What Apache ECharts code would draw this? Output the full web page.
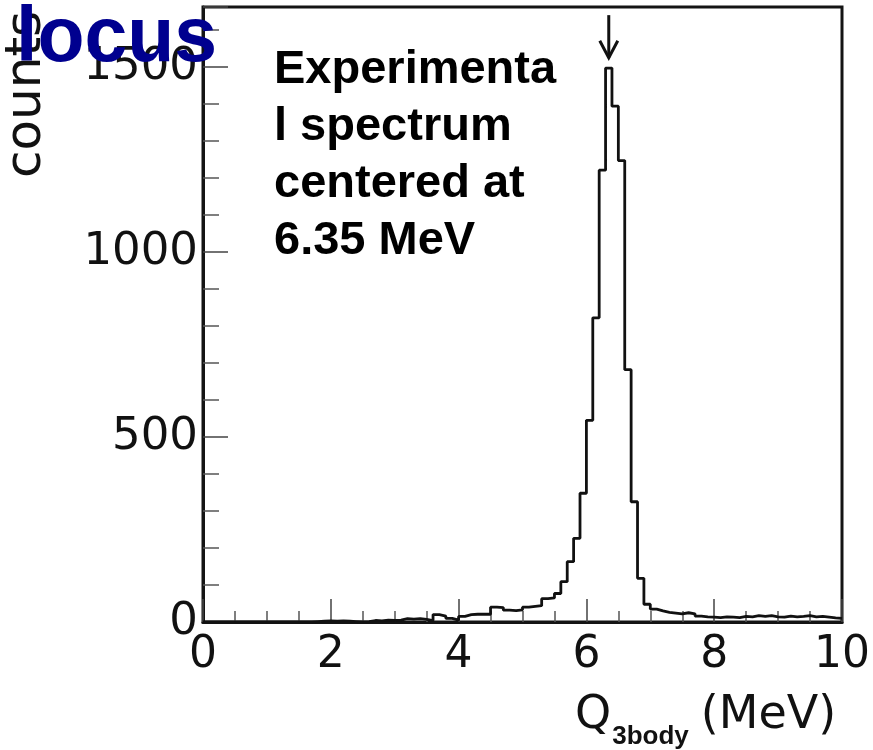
<!DOCTYPE html>
<html>
<head>
<meta charset="utf-8">
<script src="https://cdn.jsdelivr.net/npm/echarts@6/dist/echarts.min.js"></script>
<style>
  html, body { margin: 0; padding: 0; background: #ffffff; }
  #chart { width: 873px; height: 750px; }
</style>
</head>
<body>
<div id="chart"></div>
<script>
// Q-value histogram: 100 bins of 0.1 MeV from 0 to 10 MeV
const binWidth = 0.1;
const binCounts = [
  0, 0, 0, 0, 0, 0, 0, 0, 0, 0,          // 0.0 - 0.9
  0, 0, 0, 0, 0, 0, 0, 1, 2, 3,          // 1.0 - 1.9
  2, 3, 2, 1, 0, 1, 4, 3, 5, 4,          // 2.0 - 2.9
  5, 9, 8, 9, 7, 4, 20, 16, 10, 5,       // 3.0 - 3.9
  15, 20, 21, 21, 21, 40, 39, 32, 31, 33, // 4.0 - 4.9
  40, 42, 44, 63, 65, 77, 109, 163, 226, 348, // 5.0 - 5.9
  545, 822, 1221, 1497, 1394, 1247, 682, 325, 118, 48, // 6.0 - 6.9
  35, 30, 26, 24, 22, 25, 22, 16, 14, 13, // 7.0 - 7.9
  12, 14, 13, 12, 15, 14, 17, 15, 17, 14, // 8.0 - 8.9
  13, 16, 14, 15, 17, 14, 15, 13, 11, 10  // 9.0 - 9.9
];
const xTicks = [0, 2, 4, 6, 8, 10];
const yTicks = [0, 500, 1000, 1500];
const peakCenter = 6.35;               // MeV, marked with the arrow
const arrowSpan = [1640, 1525];        // counts, top and tip of the arrow

// step points at the left edge of each bin, closed at the right edge
const stepData = binCounts.map((c, i) => [+(i * binWidth).toFixed(2), c]);
stepData.push([xTicks[xTicks.length - 1], binCounts[binCounts.length - 1]]);

const axisFont = '"DejaVu Sans", Verdana, sans-serif';
const boldFont = '"Liberation Sans", Arial, sans-serif';
const chart = echarts.init(document.getElementById('chart'), null, { renderer: 'canvas' });

chart.setOption({
  backgroundColor: '#ffffff',
  animation: false,
  grid: {
    left: 203, right: 31, top: 7, bottom: 128,
    show: true, borderColor: '#141414', borderWidth: 3, backgroundColor: 'transparent'
  },
  xAxis: {
    type: 'value',
    min: xTicks[0], max: xTicks[xTicks.length - 1], interval: 2,
    axisLine: { show: true, lineStyle: { color: '#141414', width: 3 } },
    axisTick: { show: true, inside: true, length: 23, lineStyle: { color: '#444', width: 1.5 } },
    minorTick: { show: true, splitNumber: 4, length: 11, lineStyle: { color: '#555', width: 1.5 } },
    splitLine: { show: false },
    axisLabel: {
      margin: 12, color: '#111', fontFamily: axisFont, fontSize: 44,
      formatter: v => String(v)
    }
  },
  yAxis: {
    type: 'value',
    min: yTicks[0], max: 1662, interval: 500,
    axisLine: { show: true, lineStyle: { color: '#141414', width: 3 } },
    axisTick: { show: true, inside: true, length: 25, lineStyle: { color: '#444', width: 1.5 } },
    minorTick: { show: true, splitNumber: 5, length: 16, lineStyle: { color: '#555', width: 1.5 } },
    splitLine: { show: false },
    axisLabel: {
      margin: 5, color: '#111', fontFamily: axisFont, fontSize: 45,
      showMaxLabel: false,
      formatter: v => (yTicks.indexOf(v) >= 0 ? String(v) : '')
    }
  },
  series: [{
    type: 'line',
    step: 'end',
    data: stepData,
    symbol: 'none',
    lineStyle: { color: '#111', width: 2.8 },
    z: 3
  }]
});

// arrow marking the spectrum centre, placed in data coordinates
const pTop = chart.convertToPixel({ gridIndex: 0 }, [peakCenter, arrowSpan[0]]);
const pTip = chart.convertToPixel({ gridIndex: 0 }, [peakCenter, arrowSpan[1]]);

chart.setOption({
  graphic: [
    {
      type: 'line', z: 10,
      shape: { x1: pTop[0], y1: pTop[1], x2: pTip[0], y2: pTip[1] },
      style: { stroke: '#111', lineWidth: 3 }
    },
    {
      type: 'polyline', z: 10,
      shape: { points: [[pTip[0] - 9, pTip[1] - 17], [pTip[0], pTip[1]], [pTip[0] + 9, pTip[1] - 17]] },
      style: { stroke: '#111', lineWidth: 3, fill: null }
    },
    {
      // y axis title
      type: 'text', z: 5,
      x: 27, y: 178, rotation: Math.PI / 2,
      style: {
        text: 'counts', fill: '#111', font: '50px "DejaVu Sans", Verdana, sans-serif',
        align: 'left', verticalAlign: 'middle'
      }
    },
    {
      // x axis title with subscript
      type: 'text', z: 5,
      x: 575, y: 690,
      style: {
        text: '{q|Q}{s|3body}{m|(MeV)}',
        align: 'left', verticalAlign: 'top',
        rich: {
          q: { fontFamily: axisFont, fontSize: 46, fill: '#111', lineHeight: 52 },
          s: { fontFamily: boldFont, fontSize: 26, fontWeight: 'bold', fill: '#111',
               verticalAlign: 'bottom', padding: [0, 12, -8, 1], lineHeight: 52 },
          m: { fontFamily: axisFont, fontSize: 46, fill: '#111', lineHeight: 52 }
        }
      }
    },
    {
      type: 'text', z: 20,
      x: 16, y: 1,
      style: {
        text: 'locus', fill: '#00008f',
        font: 'bold 77px "Liberation Sans", Arial, sans-serif',
        align: 'left', verticalAlign: 'top'
      }
    },
    {
      type: 'text', z: 20,
      x: 274, y: 42,
      style: {
        text: 'Experimenta\nl spectrum\ncentered at\n6.35 MeV',
        fill: '#000',
        font: 'bold 47px "Liberation Sans", Arial, sans-serif',
        lineHeight: 57,
        align: 'left', verticalAlign: 'top'
      }
    }
  ]
});
</script>
</body>
</html>
